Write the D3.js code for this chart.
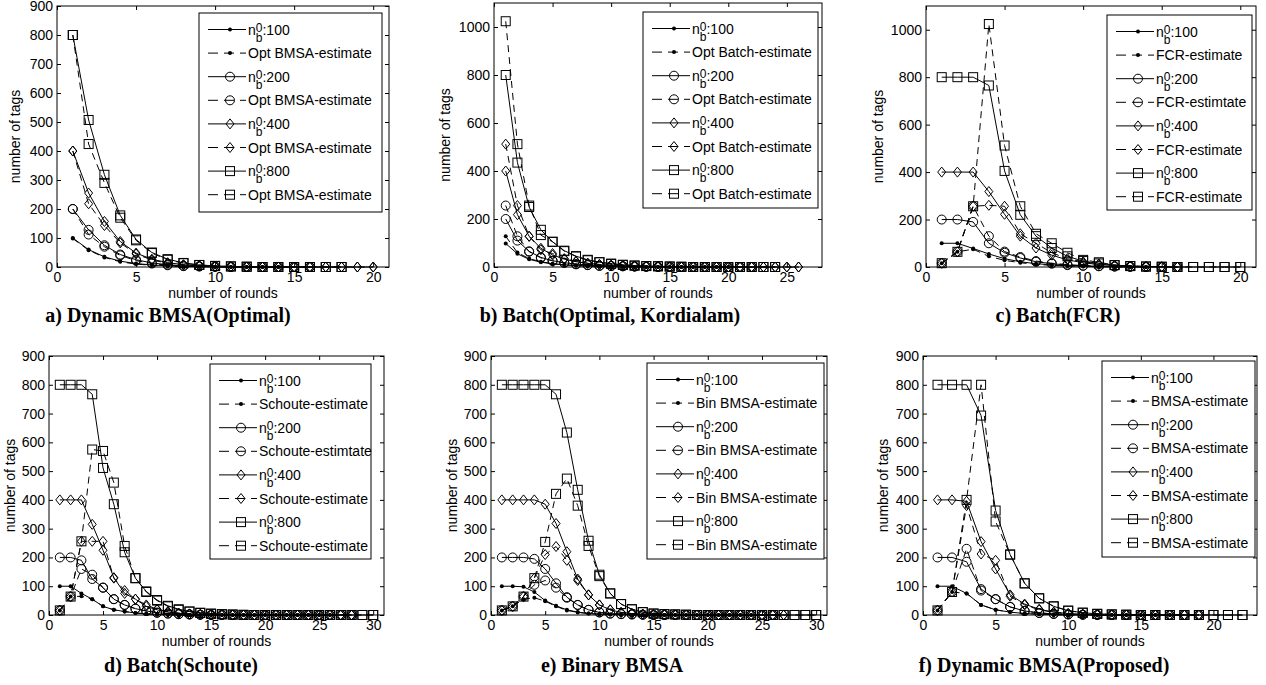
<!DOCTYPE html>
<html>
<head>
<meta charset="utf-8">
<script src="https://cdn.jsdelivr.net/npm/d3@7"></script>
<style>
	body { margin: 0; background: #fff; }
	svg text { font-family: "Liberation Sans", Arial, sans-serif; fill: #000; }
</style>
</head>
<body>
<svg id="fig" width="1266" height="685"></svg>
<script>
// ---- values (index i -> round i+1) ----

var startCounts = ["100", "200", "400", "800"];

// a) Dynamic BMSA(Optimal)
var aAct100 = [100, 60, 35, 20, 12, 7, 4, 2, 1, 0, 0, 0, 0, 0];
var aEst100 = [98, 58, 33, 18, 10, 6, 3, 2, 1, 0, 0, 0, 0, 0];
var aAct200 = [200, 128, 75, 43, 25, 14, 8, 4, 2, 1, 0, 0, 0, 0, 0, 0];
var aEst200 = [200, 112, 70, 40, 22, 12, 6, 3, 2, 1, 0, 0, 0, 0, 0, 0];
var aAct400 = [400, 255, 157, 88, 48, 27, 15, 8, 4, 2, 1, 0, 0, 0, 0, 0, 0, 0, 0, 0];
var aEst400 = [400, 218, 143, 83, 45, 24, 13, 7, 4, 2, 1, 0, 0, 0, 0, 0, 0, 0, 0, 0];
var aAct800 = [800, 507, 318, 178, 95, 50, 27, 14, 7, 4, 2, 1, 0, 0, 0, 0, 0, 0];
var aEst800 = [800, 424, 290, 170, 92, 48, 25, 13, 7, 3, 2, 1, 0, 0, 0, 0, 0, 0];

// b) Batch(Optimal, Kordialam)
var bAct100 = [98, 55, 32, 20, 13, 9, 6, 4, 3, 2, 1, 0, 0, 0, 0, 0, 0, 0, 0, 0];
var bEst100 = [128, 60, 35, 22, 14, 9, 6, 4, 3, 2, 1, 0, 0, 0, 0, 0, 0, 0, 0, 0];
var bAct200 = [200, 110, 65, 40, 26, 18, 12, 8, 5, 4, 3, 2, 1, 0, 0, 0, 0, 0, 0, 0, 0, 0];
var bEst200 = [256, 128, 64, 38, 26, 17, 11, 8, 5, 4, 3, 2, 1, 0, 0, 0, 0, 0, 0, 0, 0, 0];
var bAct400 = [400, 218, 128, 78, 50, 33, 22, 15, 10, 7, 5, 3, 2, 1, 0, 0, 0, 0, 0, 0, 0, 0, 0, 0, 0, 0];
var bEst400 = [512, 256, 128, 72, 56, 35, 24, 16, 11, 8, 5, 4, 3, 2, 1, 0, 0, 0, 0, 0, 0, 0, 0, 0, 0, 0];
var bAct800 = [800, 435, 250, 155, 105, 68, 45, 30, 20, 13, 9, 6, 4, 3, 2, 1, 0, 0, 0, 0, 0, 0, 0, 0];
var bEst800 = [1024, 512, 256, 133, 105, 66, 44, 28, 20, 14, 9, 6, 4, 3, 2, 1, 0, 0, 0, 0, 0, 0, 0, 0];

// c) Batch(FCR)
var cAct100 = [100, 100, 78, 55, 35, 22, 14, 9, 5, 3, 2, 1, 0, 0];
var cEst100 = [16, 64, 75, 45, 28, 18, 11, 7, 4, 2, 1, 0, 0, 0];
var cAct200 = [200, 200, 190, 100, 60, 38, 22, 14, 8, 5, 3, 2, 1, 0, 0, 0];
var cEst200 = [16, 64, 256, 130, 65, 42, 25, 16, 10, 6, 4, 2, 1, 0, 0, 0];
var cAct400 = [400, 400, 400, 318, 222, 130, 80, 50, 30, 18, 10, 6, 3, 2, 1, 0];
var cEst400 = [16, 64, 256, 260, 256, 140, 100, 60, 35, 22, 13, 8, 4, 2, 1, 0];
var cAct800 = [800, 800, 800, 765, 405, 220, 130, 80, 45, 25, 15, 8, 4, 2, 1, 0, 0, 0, 0, 0];
var cEst800 = [16, 64, 256, 1024, 512, 256, 140, 100, 60, 30, 20, 8, 4, 2, 1, 0, 0, 0, 0, 0];

// d) Batch(Schoute)
var dAct100 = [100, 100, 75, 55, 30, 18, 12, 7, 4, 2, 1, 0, 0, 0, 0, 0, 0, 0, 0, 0, 0, 0, 0, 0, 0, 0];
var dEst100 = [16, 64, 65, 55, 30, 18, 12, 7, 4, 2, 1, 0, 0, 0, 0, 0, 0, 0, 0, 0, 0, 0, 0, 0, 0, 0];
var dAct200 = [200, 200, 190, 125, 95, 55, 35, 22, 14, 8, 5, 3, 2, 1, 0, 0, 0, 0, 0, 0, 0, 0, 0, 0, 0, 0, 0, 0];
var dEst200 = [16, 64, 160, 140, 95, 55, 35, 22, 14, 8, 5, 3, 2, 1, 0, 0, 0, 0, 0, 0, 0, 0, 0, 0, 0, 0, 0, 0];
var dAct400 = [400, 400, 400, 315, 225, 130, 75, 55, 30, 18, 10, 6, 3, 2, 1, 0, 0, 0, 0, 0, 0, 0, 0, 0, 0, 0, 0, 0];
var dEst400 = [16, 64, 256, 256, 256, 128, 85, 55, 35, 20, 12, 7, 4, 2, 1, 0, 0, 0, 0, 0, 0, 0, 0, 0, 0, 0, 0, 0];
var dAct800 = [800, 800, 800, 767, 511, 385, 218, 128, 82, 52, 32, 20, 12, 8, 5, 3, 2, 1, 0, 0, 0, 0, 0, 0, 0, 0, 0, 0, 0, 0];
var dEst800 = [16, 64, 256, 575, 570, 460, 240, 128, 80, 50, 30, 18, 12, 7, 4, 2, 1, 0, 0, 0, 0, 0, 0, 0, 0, 0, 0, 0, 0, 0];

// e) Binary BMSA
var eAct100 = [100, 100, 98, 80, 50, 32, 18, 10, 5, 3, 2, 1, 0, 0, 0, 0, 0, 0, 0, 0, 0, 0, 0, 0];
var eEst100 = [16, 30, 55, 60, 48, 30, 16, 9, 5, 3, 2, 1, 0, 0, 0, 0, 0, 0, 0, 0, 0, 0, 0, 0];
var eAct200 = [200, 200, 200, 195, 160, 110, 62, 35, 18, 9, 5, 3, 2, 1, 0, 0, 0, 0, 0, 0, 0, 0, 0, 0, 0, 0];
var eEst200 = [16, 30, 64, 105, 120, 95, 60, 35, 18, 9, 5, 3, 2, 1, 0, 0, 0, 0, 0, 0, 0, 0, 0, 0, 0, 0];
var eAct400 = [400, 400, 400, 400, 385, 318, 220, 125, 70, 35, 18, 9, 5, 3, 2, 1, 0, 0, 0, 0, 0, 0, 0, 0, 0, 0, 0];
var eEst400 = [16, 30, 64, 128, 210, 238, 190, 120, 70, 35, 18, 9, 5, 3, 2, 1, 0, 0, 0, 0, 0, 0, 0, 0, 0, 0, 0];
var eAct800 = [800, 800, 800, 800, 800, 767, 634, 435, 258, 140, 75, 38, 20, 10, 5, 3, 2, 1, 0, 0, 0, 0, 0, 0, 0, 0, 0, 0, 0, 0];
var eEst800 = [16, 30, 64, 128, 254, 421, 474, 380, 240, 135, 75, 38, 20, 10, 5, 3, 2, 1, 0, 0, 0, 0, 0, 0, 0, 0, 0, 0, 0, 0];

// f) Dynamic BMSA(Proposed)
var fAct100 = [100, 100, 75, 35, 18, 10, 5, 3, 1, 0, 0, 0, 0, 0, 0, 0, 0];
var fEst100 = [16, 80, 75, 35, 18, 10, 5, 3, 1, 0, 0, 0, 0, 0, 0, 0, 0];
var fAct200 = [200, 200, 185, 90, 55, 28, 14, 7, 4, 2, 1, 0, 0, 0, 0, 0, 0, 0, 0];
var fEst200 = [16, 80, 230, 85, 55, 28, 14, 7, 4, 2, 1, 0, 0, 0, 0, 0, 0, 0, 0];
var fAct400 = [400, 400, 395, 255, 160, 70, 38, 20, 10, 5, 3, 1, 0, 0, 0, 0, 0, 0, 0];
var fEst400 = [16, 80, 380, 212, 190, 65, 35, 18, 9, 5, 2, 1, 0, 0, 0, 0, 0, 0, 0];
var fAct800 = [800, 800, 800, 693, 363, 210, 110, 58, 30, 15, 8, 4, 2, 1, 0, 0, 0, 0, 0, 0, 0, 0];
var fEst800 = [16, 80, 400, 800, 325, 210, 110, 58, 30, 15, 8, 4, 2, 1, 0, 0, 0, 0, 0, 0, 0, 0];

// ---- layout of the six axes ----
var panels = [
	{left: 57, right: 389, top: 6, bottom: 267, xMax: 21, yMax: 900, xStep: 5, yStep: 100,
		leg: [199, 13, 183, 199], yLabX: 20, title: "a) Dynamic BMSA(Optimal)", titleX: 168, titleY: 322,
		est: ["Opt BMSA-estimate", "Opt BMSA-estimate", "Opt BMSA-estimate", "Opt BMSA-estimate"],
		series: [aAct100, aEst100, aAct200, aEst200, aAct400, aEst400, aAct800, aEst800]},
	{left: 494, right: 822, top: 3, bottom: 267, xMax: 28, yMax: 1100, xStep: 5, yStep: 200,
		leg: [643, 12, 175, 196], yLabX: 450, title: "b) Batch(Optimal, Kordialam)", titleX: 610, titleY: 322,
		est: ["Opt Batch-estimate", "Opt Batch-estimate", "Opt Batch-estimate", "Opt Batch-estimate"],
		series: [bAct100, bEst100, bAct200, bEst200, bAct400, bEst400, bAct800, bEst800]},
	{left: 926, right: 1256, top: 6, bottom: 267, xMax: 21, yMax: 1100, xStep: 5, yStep: 200,
		leg: [1107, 15, 145, 195], yLabX: 883, title: "c) Batch(FCR)", titleX: 1058, titleY: 322,
		est: ["FCR-estimate", "FCR-estimtate", "FCR-estimate", "FCR-estimate"],
		series: [cAct100, cEst100, cAct200, cEst200, cAct400, cEst400, cAct800, cEst800]},
	{left: 49, right: 384, top: 356, bottom: 615, xMax: 31, yMax: 900, xStep: 5, yStep: 100,
		leg: [210, 364, 161, 195], yLabX: 15, title: "d) Batch(Schoute)", titleX: 181, titleY: 672,
		est: ["Schoute-estimate", "Schoute-estimtate", "Schoute-estimate", "Schoute-estimate"],
		series: [dAct100, dEst100, dAct200, dEst200, dAct400, dEst400, dAct800, dEst800]},
	{left: 491, right: 827, top: 356, bottom: 615, xMax: 31, yMax: 900, xStep: 5, yStep: 100,
		leg: [647, 363, 177, 196], yLabX: 457, title: "e) Binary BMSA", titleX: 612, titleY: 672,
		est: ["Bin BMSA-estimate", "Bin BMSA-estimate", "Bin BMSA-estimate", "Bin BMSA-estimate"],
		series: [eAct100, eEst100, eAct200, eEst200, eAct400, eEst400, eAct800, eEst800]},
	{left: 923, right: 1257, top: 356, bottom: 615, xMax: 23, yMax: 900, xStep: 5, yStep: 100,
		leg: [1102, 361, 153, 196], yLabX: 888, title: "f) Dynamic BMSA(Proposed)", titleX: 1044, titleY: 672,
		est: ["BMSA-estimate", "BMSA-estimate", "BMSA-estimate", "BMSA-estimate"],
		series: [fAct100, fEst100, fAct200, fEst200, fAct400, fEst400, fAct800, fEst800]}
];

var markerOf = ["dot", "dot", "o", "o", "d", "d", "s", "s"];
var DASH = "7,5";

var svg = d3.select("#fig");

function drawMarker(g, type, cx, cy) {
	if (type == "dot") {
		g.append("circle").attr("cx", cx).attr("cy", cy).attr("r", 2).attr("fill", "#000");
	} else if (type == "o") {
		g.append("circle").attr("cx", cx).attr("cy", cy).attr("r", 4.5)
			.attr("fill", "none").attr("stroke", "#000");
	} else if (type == "d") {
		g.append("path")
			.attr("d", "M" + cx + "," + (cy - 5) + "L" + (cx + 4) + "," + cy + "L" + cx + "," + (cy + 5) + "L" + (cx - 4) + "," + cy + "Z")
			.attr("fill", "none").attr("stroke", "#000");
	} else {
		g.append("rect").attr("x", cx - 4.5).attr("y", cy - 4.5).attr("width", 9).attr("height", 9)
			.attr("fill", "none").attr("stroke", "#000");
	}
}

function drawPanel(p) {
	var g = svg.append("g");
	var x = d3.scaleLinear().domain([0, p.xMax]).range([p.left, p.right]);
	var y = d3.scaleLinear().domain([0, p.yMax]).range([p.bottom, p.top]);
	var xTicks = d3.range(0, p.xMax + 0.01, p.xStep);
	var yTicks = d3.range(0, p.yMax + 0.01, p.yStep);

	// inward ticks on all four sides, labels only bottom/left
	var axes = [
		[d3.axisBottom(x), p.bottom, 0, true],
		[d3.axisTop(x), p.top, 0, false],
		[d3.axisLeft(y), 0, p.left, true],
		[d3.axisRight(y), 0, p.right, false]
	];
	axes.forEach(function (a, k) {
		var ax = a[0].tickSizeInner(-4).tickSizeOuter(0).tickPadding(k < 2 ? 5 : 4)
			.tickValues(k < 2 ? xTicks : yTicks)
			.tickFormat(a[3] ? d3.format("d") : "");
		var ag = g.append("g").attr("transform", "translate(" + a[2] + "," + a[1] + ")").call(ax);
		ag.select(".domain").remove();
		ag.selectAll("line").attr("stroke", "#000");
		ag.selectAll("text").attr("font-size", 14).attr("font-family", "Liberation Sans, Arial, sans-serif");
	});

	g.append("rect")
		.attr("x", p.left).attr("y", p.top)
		.attr("width", p.right - p.left).attr("height", p.bottom - p.top)
		.attr("fill", "none").attr("stroke", "#000");

	var line = d3.line()
		.x(function (d, i) { return x(i + 1); })
		.y(function (d) { return y(d); });

	p.series.forEach(function (s, k) {
		g.append("path").datum(s).attr("d", line)
			.attr("fill", "none").attr("stroke", "#000").attr("stroke-width", 1)
			.attr("stroke-dasharray", k % 2 ? DASH : null);
		s.forEach(function (v, i) {
			drawMarker(g, markerOf[k], x(i + 1), y(v));
		});
	});

	// axis labels
	g.append("text").attr("x", (p.left + p.right) / 2).attr("y", p.bottom + 31)
		.attr("text-anchor", "middle").attr("font-size", 14).text("number of rounds");
	g.append("text").attr("transform", "translate(" + p.yLabX + "," + ((p.top + p.bottom) / 2) + ") rotate(-90)")
		.attr("text-anchor", "middle").attr("font-size", 14).text("number of tags");

	drawLegend(g, p);

	g.append("text").attr("x", p.titleX).attr("y", p.titleY)
		.attr("text-anchor", "middle")
		.style("font-family", "'Liberation Serif', 'Times New Roman', serif")
		.attr("font-weight", "bold").attr("font-size", 20)
		.text(p.title);
}

function drawLegend(g, p) {
	var lg = g.append("g").attr("transform", "translate(" + p.leg[0] + "," + p.leg[1] + ")");
	lg.append("rect").attr("width", p.leg[2]).attr("height", p.leg[3])
		.attr("fill", "#fff").attr("stroke", "#000");

	for (var i = 0; i < 8; i++) {
		var cy = 16.5 + i * 23.6;
		lg.append("line").attr("x1", 9).attr("x2", 47).attr("y1", cy).attr("y2", cy)
			.attr("stroke", "#000").attr("stroke-dasharray", i % 2 ? "10,6" : null);
		drawMarker(lg, markerOf[i], 31, cy);

		var t = lg.append("text").attr("x", 49).attr("y", cy + 5).attr("font-size", 14);
		if (i % 2 == 0) {
			// n_b^0 : stacked sub/superscript in one text node
			t.append("tspan").text("n");
			t.append("tspan").attr("font-size", 12).attr("dy", -3).text("0");
			t.append("tspan").attr("font-size", 12).attr("dx", -6.7).attr("dy", 10).text("b");
			t.append("tspan").attr("dy", -7).text(":" + startCounts[i / 2]);
		} else {
			t.text(p.est[(i - 1) / 2]);
		}
	}
}

panels.forEach(drawPanel);
</script>
</body>
</html>
